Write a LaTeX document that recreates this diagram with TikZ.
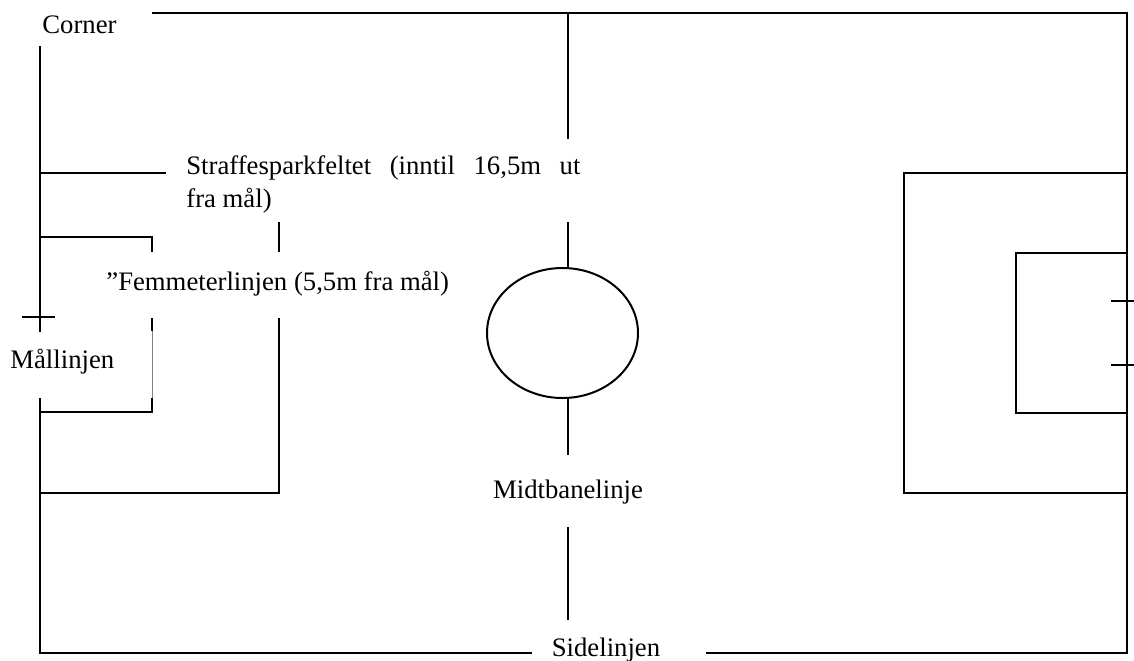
\documentclass[tikz,border=0pt]{standalone}
\usepackage{fontspec}
\setmainfont{Liberation Serif}
\begin{document}
\begin{tikzpicture}[x=0.5pt,y=-0.5pt,
  ln/.style={line width=1pt,black},
  thin/.style={line width=0.35pt,gray},
  lbl/.style={inner sep=0pt,anchor=base west,font=\fontsize{13.35pt}{16pt}\selectfont}]
\useasboundingbox (0,0) rectangle (1134,660);
% text nodes
\node[lbl] (corner) at (42,33) {Corner};
\node[lbl] (straf1) at (186,174) {\makebox[197pt][s]{Straffesparkfeltet (inntil 16,5m ut}};
\node[lbl] (straf2) at (186,207) {fra mål)};
\node[lbl] (femm) at (106,290) {”Femmeterlinjen (5,5m fra mål)};
\node[lbl] (mal) at (10,368) {Mållinjen};
\node[lbl,anchor=base] (midt) at (568,498) {Midtbanelinje};
\node[lbl,anchor=base] (side) at (606,656) {Sidelinjen};
% coordinates
\coordinate (TL) at (40,13);
\coordinate (TR) at (1127,13);
\coordinate (BR) at (1127,653);
\coordinate (BL) at (40,653);
% outer boundary
\draw[ln] (152,13) -- (TR) -- (BR) -- (706,653);
\draw[ln] (532,653) -- (BL) -- (40,398);
\draw[ln] (40,46) -- (40,332);
\draw[ln] (22,317) -- (55,317);
% left penalty area
\draw[ln] (40,173) -- (166,173);
\draw[ln] (279,222) -- (279,252);
\draw[ln] (40,493) -- (279,493) -- (279,318);
% left goal area
\draw[ln] (40,237) -- (152,237) -- (152,252);
\draw[ln] (152,318) -- (152,331);
\draw[thin] (152,331) -- (152,398);
\draw[ln] (152,398) -- (152,412) -- (40,412);
% midline and circle
\draw[ln] (568,13) -- (568,139);
\draw[ln] (568,222) -- (568,268);
\draw[ln] (562.5,333) ellipse [x radius=75.5, y radius=65];
\draw[ln] (568,398) -- (568,455);
\draw[ln] (568,527) -- (568,620);
% right penalty area
\draw[ln] (1127,173) -- (904,173) -- (904,493) -- (1127,493);
% right goal area
\draw[ln] (1127,253) -- (1016,253) -- (1016,413) -- (1127,413);
\draw[ln] (1111,301) -- (1134,301);
\draw[ln] (1111,365) -- (1134,365);
\end{tikzpicture}
\end{document}
